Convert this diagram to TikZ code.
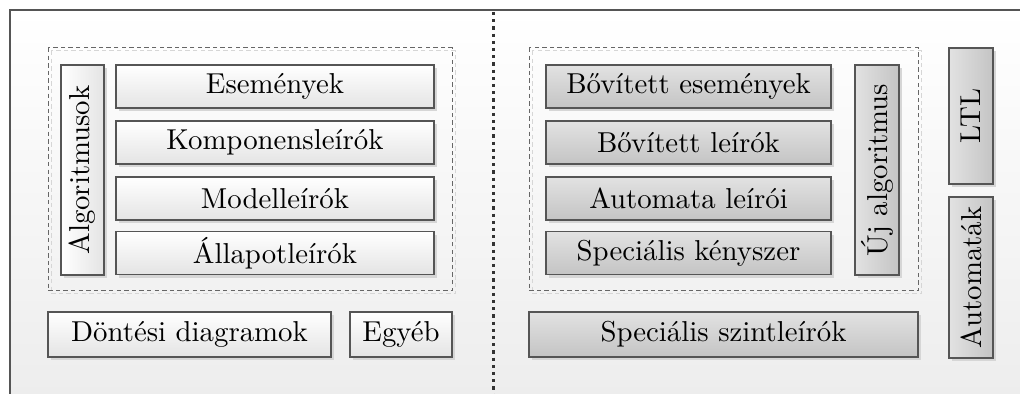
\documentclass[tikz,border=0pt]{standalone}
\usepackage{fontspec}
\usepackage{graphicx}
\newfontfamily\lmten{lmroman10-regular.otf}
\usetikzlibrary{shadows}
\definecolor{frame}{HTML}{555555}
\definecolor{lbot}{HTML}{E4E4E4}
\definecolor{rtop}{HTML}{E2E2E2}
\definecolor{rbot}{HTML}{C4C4C4}
\definecolor{shad}{HTML}{D6D6D6}
\tikzset{
  basebox/.style={draw=frame, line width=0.6pt, inner sep=0pt, anchor=center,
    font=\lmten\fontsize{14.4pt}{17pt}\selectfont,
    drop shadow={shadow xshift=1.7pt, shadow yshift=-1.7pt, fill=shad, opacity=1}},
  lbox/.style={basebox, top color=white, bottom color=lbot},
  rbox/.style={basebox, top color=rtop, bottom color=rbot},
  lvbox/.style={basebox, left color=white, right color=lbot},
  rvbox/.style={basebox, left color=rtop, right color=rbot},
  dbox/.style={draw=black!60, line width=0.5pt, dash pattern=on 2.2pt off 1.6pt},
  dshadow/.style={draw=shad, line width=0.5pt, dash pattern=on 2.2pt off 1.6pt},
}
\begin{document}
\begin{tikzpicture}[x=0.5pt,y=-0.5pt]
\useasboundingbox (0,0) rectangle (1020,394);
% background and frame
\shade[top color=white, bottom color=black!7] (10,10) rectangle (1020,394);
\draw[frame, line width=0.6pt] (10,394) -- (10,10) -- (1020,10);
\draw[black!80, line width=1.5pt, dash pattern=on 1.6pt off 2pt] (493,12) -- (493,394);
% dashed group boxes
\draw[dshadow] (51,51) rectangle (455,294);
\draw[dbox] (48,48) rectangle (452,291);
\draw[dshadow] (532,51) rectangle (921,294);
\draw[dbox] (529,48) rectangle (918,291);
% left boxes
\node[lvbox, minimum height=105pt, minimum width=21.5pt] (alg) at (82.5,170) {\rotatebox{90}{Algoritmusok}};
\node[lbox, minimum width=159pt, minimum height=21.5pt] (esem) at (275,86.5) {Események};
\node[lbox, minimum width=159pt, minimum height=21.5pt] (komp) at (275,142.5) {Komponensleírók};
\node[lbox, minimum width=159pt, minimum height=21.5pt] (modell) at (275,198.5) {Modelleírók};
\node[lbox, minimum width=159pt, minimum height=21.5pt] (allap) at (275,253) {Állapotleírók};
\node[lbox, minimum width=141.5pt, minimum height=22.5pt] (dont) at (189.5,334.5) {Döntési diagramok};
\node[lbox, minimum width=51pt, minimum height=22.5pt] (egyeb) at (401,334.5) {Egyéb};
% right boxes
\node[rbox, minimum width=142.5pt, minimum height=21.5pt] (bes) at (688.5,86.5) {Bővített események};
\node[rbox, minimum width=142.5pt, minimum height=21.5pt] (ble) at (688.5,142.5) {Bővített leírók};
\node[rbox, minimum width=142.5pt, minimum height=21.5pt] (aut) at (688.5,198.5) {Automata leírói};
\node[rbox, minimum width=142.5pt, minimum height=21.5pt] (spk) at (688.5,253) {Speciális kényszer};
\node[rvbox, minimum height=105pt, minimum width=22pt] (uj) at (877,170) {\rotatebox{90}{Új algoritmus}};
\node[rvbox, minimum height=68pt, minimum width=22pt] (ltl) at (971,116) {\rotatebox{90}{LTL}};
\node[rvbox, minimum height=80.5pt, minimum width=22pt] (autk) at (971,277.5) {\rotatebox{90}{Automaták}};
\node[rbox, minimum width=194.5pt, minimum height=22.5pt] (szint) at (723.5,334.5) {Speciális szintleírók};
\end{tikzpicture}
\end{document}
